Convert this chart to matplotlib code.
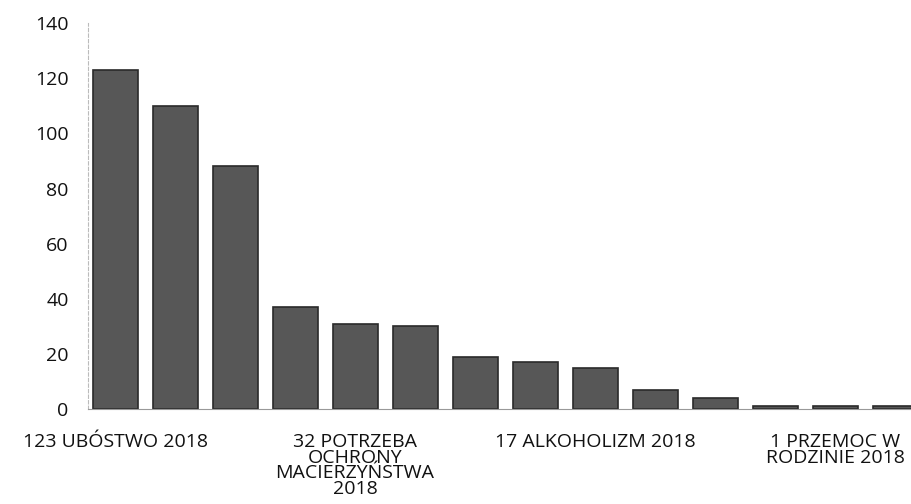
import numpy as np
import matplotlib.pyplot as plt

plt.rcParams['font.family'] = ['Open Sans', 'DejaVu Sans']

# category labels (only every 4th is printed on the original chart)
labels = ["123 UBÓSTWO 2018", "", "", "",
          "32 POTRZEBA\nOCHRONY\nMACIERZYŃSTWA\n2018", "", "", "",
          "17 ALKOHOLIZM 2018", "", "", "",
          "1 PRZEMOC W\nRODZINIE 2018", ""]
values = [123, 110, 88, 37, 31, 30, 19, 17, 15, 7, 4, 1, 1, 1]
yticks = [0, 20, 40, 60, 80, 100, 120, 140]


def main():
    fig = plt.figure(figsize=(9.12, 5.04), dpi=100)
    ax = fig.add_axes([0.0965, 0.1885, 0.9035, 0.7655])

    x = np.arange(len(values))
    ax.bar(x, values, width=0.75, color="#575757", edgecolor="#2a2a2a", linewidth=1.2)

    ax.set_xlim(-0.45, 13.28)
    ax.set_ylim(0, 140)
    ax.set_yticks(yticks)
    ax.set_xticks(x)
    ax.set_xticklabels(labels, fontsize=14, linespacing=0.85, color="#111111")
    ax.tick_params(axis="y", length=0, pad=14, labelsize=14, labelcolor="#111111")
    ax.tick_params(axis="x", length=0, pad=17)

    for side in ["top", "right"]:
        ax.spines[side].set_visible(False)
    ax.spines["left"].set_color("#bbbbbb")
    ax.spines["left"].set_linestyle((0, (3, 2)))
    ax.spines["left"].set_linewidth(0.8)
    ax.spines["bottom"].set_color("#999999")
    ax.spines["bottom"].set_linewidth(0.8)

    fig.savefig("out.png", dpi=100)


if __name__ == '__main__':
    main()
